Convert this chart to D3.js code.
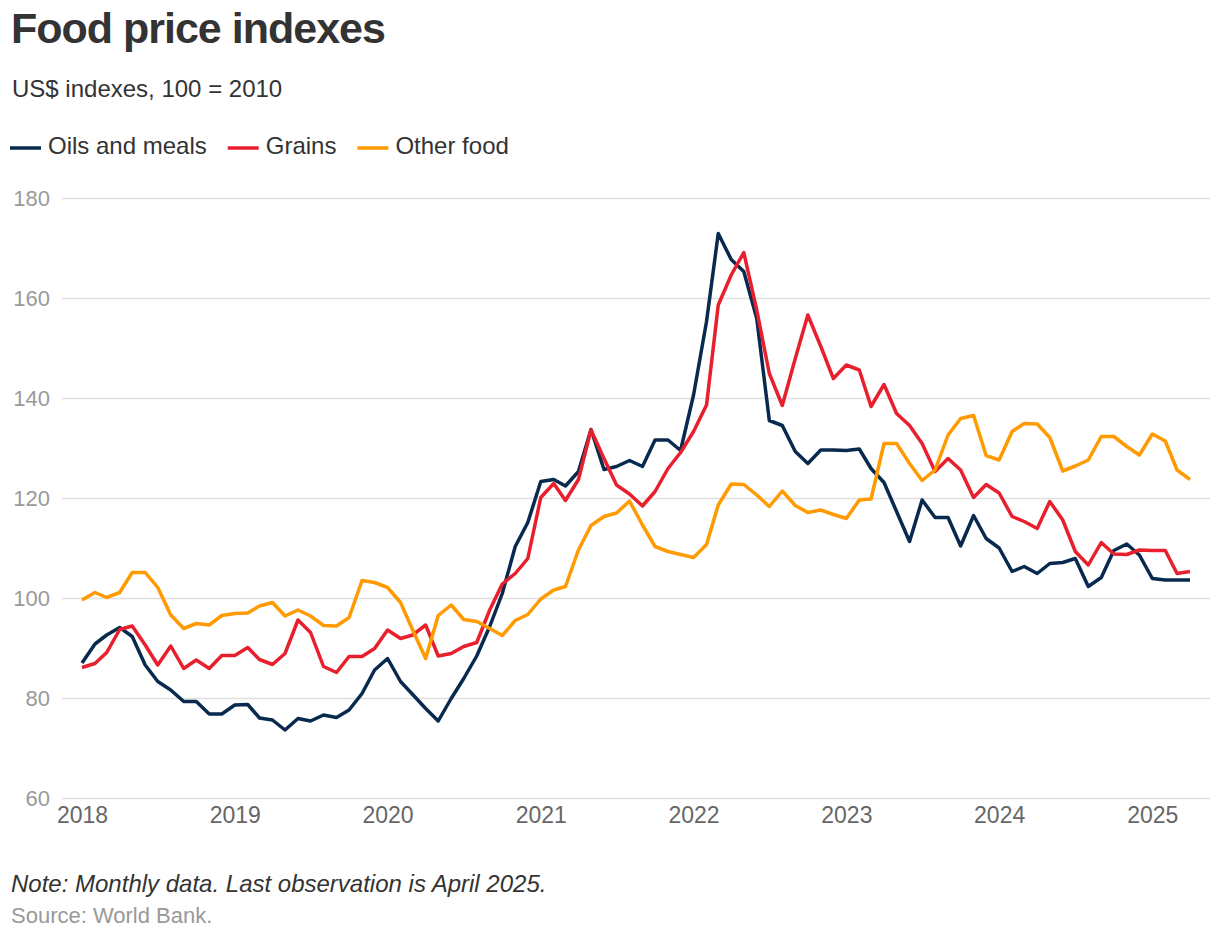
<!DOCTYPE html>
<html>
<head>
<meta charset="utf-8">
<script src="https://cdn.jsdelivr.net/npm/d3@7"></script>
<style>
  body { margin: 0; background: #fff; font-family: "Liberation Sans", Arial, sans-serif; }
  svg text { font-family: "Liberation Sans", Arial, sans-serif; }
</style>
</head>
<body>
<svg id="chart" width="1220" height="940"></svg>
<script>
// monthly, Jan 2018 .. Apr 2025
const startMonth = new Date(2018, 0, 1);

const oilsMeals = [
  87.0, 90.8, 92.6, 94.1, 92.3, 86.6, 83.3, 81.6, 79.3, 79.3, 76.8, 76.8,
  78.6, 78.7, 76.0, 75.6, 73.6, 75.9, 75.4, 76.6, 76.1, 77.6, 80.9, 85.6,
  87.9, 83.3, 80.7, 77.9, 75.4, 79.9, 83.9, 88.4, 94.3, 100.9, 110.3, 115.1,
  123.3, 123.7, 122.4, 125.3, 133.7, 125.7, 126.3, 127.5, 126.3, 131.6, 131.6, 129.5,
  140.6, 155.3, 172.9, 167.7, 165.3, 155.9, 135.5, 134.5, 129.3, 126.9, 129.6, 129.6,
  129.5, 129.8, 125.9, 123.1, 117.3, 111.3, 119.6, 116.1, 116.1, 110.4, 116.5, 111.9,
  110.0, 105.3, 106.3, 104.9, 106.9, 107.1, 107.9, 102.3, 104.1, 109.5, 110.8, 108.6,
  103.9, 103.6, 103.6, 103.6
];

const grains = [
  86.1, 86.9, 89.1, 93.7, 94.4, 90.6, 86.6, 90.4, 85.9, 87.6, 85.9, 88.5,
  88.5, 90.1, 87.7, 86.7, 88.9, 95.6, 93.1, 86.3, 85.1, 88.3, 88.3, 89.9,
  93.6, 91.9, 92.6, 94.6, 88.4, 88.9, 90.3, 91.1, 97.6, 102.8, 104.9, 107.9,
  120.1, 122.9, 119.5, 123.7, 133.6, 127.9, 122.6, 120.8, 118.4, 121.3, 125.9, 129.1,
  133.3, 138.6, 158.6, 164.6, 169.1, 157.6, 144.9, 138.5, 147.9, 156.6, 150.3, 143.9,
  146.6, 145.6, 138.3, 142.7, 136.9, 134.5, 130.9, 125.3, 127.9, 125.6, 120.1, 122.7,
  121.0, 116.3, 115.3, 113.9, 119.3, 115.6, 109.3, 106.6, 111.1, 108.8, 108.7, 109.6,
  109.5, 109.5, 104.9, 105.3
];

const otherFood = [
  99.6, 101.1, 100.1, 101.1, 105.1, 105.1, 102.1, 96.6, 93.9, 94.9, 94.6, 96.5,
  96.9, 97.0, 98.4, 99.1, 96.4, 97.6, 96.4, 94.5, 94.4, 96.1, 103.5, 103.1,
  102.1, 99.1, 93.6, 87.9, 96.5, 98.6, 95.7, 95.3, 93.9, 92.5, 95.5, 96.7,
  99.8, 101.6, 102.3, 109.6, 114.5, 116.3, 117.0, 119.4, 114.6, 110.3, 109.3, 108.7,
  108.1, 110.7, 118.6, 122.8, 122.7, 120.6, 118.3, 121.4, 118.5, 117.1, 117.6, 116.7,
  115.9, 119.6, 119.8, 130.9, 130.9, 126.9, 123.5, 125.6, 132.6, 135.9, 136.5, 128.5,
  127.6, 133.3, 134.9, 134.8, 132.1, 125.4, 126.4, 127.6, 132.3, 132.3, 130.3, 128.6,
  132.8, 131.4, 125.6, 123.7
];

const yTicks = [60, 80, 100, 120, 140, 160, 180];
const xTickYears = [2018, 2019, 2020, 2021, 2022, 2023, 2024, 2025];

const series = [
  { name: "Oils and meals", values: oilsMeals, color: "#082a4e" },
  { name: "Grains", values: grains, color: "#e81f2d" },
  { name: "Other food", values: otherFood, color: "#ff9a00" },
];

const svg = d3.select("#chart");
const margin = { top: 198, right: 10, bottom: 142, left: 62 };
const W = 1220, H = 940;

const monthDate = (i) => new Date(2018, i, 1);

const x = d3.scaleTime()
  .domain([startMonth, new Date(2025, 3, 1)])
  .range([82, 1190]);

const y = d3.scaleLinear()
  .domain([60, 180])
  .range([H - margin.bottom, margin.top]);

// title block
svg.append("text")
  .attr("x", 11).attr("y", 43)
  .attr("font-size", 43).attr("font-weight", "bold")
  .attr("letter-spacing", "-1px")
  .attr("fill", "#333")
  .text("Food price indexes");

svg.append("text")
  .attr("x", 12).attr("y", 97)
  .attr("font-size", 24)
  .attr("fill", "#333")
  .text("US$ indexes, 100 = 2010");

// legend
const legend = svg.append("g").attr("transform", "translate(0,148)");
let lx = 10;
series.forEach((s) => {
  const g = legend.append("g").attr("transform", `translate(${lx},0)`);
  g.append("line")
    .attr("x1", 0).attr("x2", 31)
    .attr("y1", 0).attr("y2", 0)
    .attr("stroke", s.color).attr("stroke-width", 3.5);
  const t = g.append("text")
    .attr("x", 38).attr("y", 6)
    .attr("font-size", 24).attr("fill", "#333")
    .text(s.name);
  lx += 38 + t.node().getComputedTextLength() + 21;
});

// grid + y labels
const yAxis = d3.axisLeft(y)
  .tickValues(yTicks)
  .tickSize(-(W - margin.right - margin.left))
  .tickPadding(12);

const yg = svg.append("g")
  .attr("transform", `translate(${margin.left},0)`)
  .call(yAxis);
yg.select(".domain").remove();
yg.selectAll(".tick line").attr("stroke", "#e0e0e0").attr("stroke-width", 1.5);
yg.selectAll(".tick text")
  .attr("fill", "#9a9a9a").attr("font-size", 22)
  .attr("font-family", "Liberation Sans, Arial, sans-serif");

// x labels
const xAxis = d3.axisBottom(x)
  .tickValues(xTickYears.map((yr) => new Date(yr, 0, 1)))
  .tickFormat(d3.timeFormat("%Y"))
  .tickSize(0)
  .tickPadding(8);

const xg = svg.append("g")
  .attr("transform", `translate(0,${H - margin.bottom + 1})`)
  .call(xAxis);
xg.select(".domain").remove();
xg.selectAll(".tick text")
  .attr("fill", "#666").attr("font-size", 23)
  .attr("font-family", "Liberation Sans, Arial, sans-serif");

// lines
const line = d3.line()
  .x((d, i) => x(monthDate(i)))
  .y((d) => y(d));

svg.append("g")
  .selectAll("path")
  .data(series)
  .join("path")
  .attr("fill", "none")
  .attr("stroke", (d) => d.color)
  .attr("stroke-width", 3.5)
  .attr("stroke-linejoin", "round")
  .attr("d", (d) => line(d.values));

// notes
svg.append("text")
  .attr("x", 11).attr("y", 892)
  .attr("font-size", 24).attr("font-style", "italic")
  .attr("fill", "#333")
  .text("Note: Monthly data. Last observation is April 2025.");

svg.append("text")
  .attr("x", 11).attr("y", 923)
  .attr("font-size", 22)
  .attr("fill", "#999")
  .text("Source: World Bank.");
</script>
</body>
</html>
